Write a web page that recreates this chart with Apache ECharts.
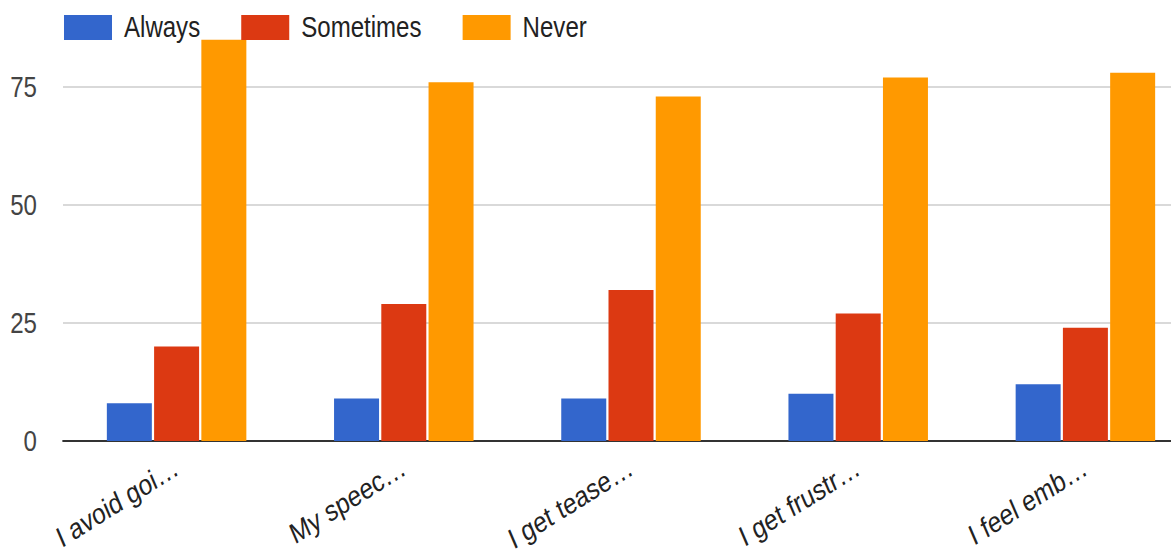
<!DOCTYPE html>
<html>
<head>
<meta charset="utf-8">
<script src="https://cdn.jsdelivr.net/npm/echarts@6/dist/echarts.min.js"></script>
<style>
  html, body { margin: 0; padding: 0; background: #fff; overflow: hidden; }
  #frame { width: 1171px; height: 556px; overflow: hidden; position: relative; }
  #chart { position: absolute; left: 0; top: 0; height: 556px; transform-origin: 0 0; }
</style>
</head>
<body>
<div id="frame"><div id="chart"></div></div>
<script>
// Survey answers per statement
const categories = ['I avoid goi…', 'My speec…', 'I get tease…', 'I get frustr…', 'I feel emb…'];
const always    = [8, 9, 9, 10, 12];
const sometimes = [20, 29, 32, 27, 24];
const never     = [85, 76, 73, 77, 78];
const yTicks = [0, 25, 50, 75, 100];

// The chart is laid out on a wider canvas and condensed horizontally,
// giving tall, narrow lettering; sx converts on-screen px to layout px.
const SQUEEZE = 0.83;
const sx = v => v / SQUEEZE;

const el = document.getElementById('chart');
el.style.width = sx(1171) + 'px';
el.style.transform = 'scaleX(' + SQUEEZE + ')';

const FONT = "'Liberation Sans', Arial, sans-serif";

const chart = echarts.init(el, null, { renderer: 'svg' });

function barSeries(name, data, color) {
  return {
    name: name,
    type: 'bar',
    data: data,
    barWidth: sx(45),
    barGap: '5%',
    itemStyle: { color: color },
    emphasis: { disabled: true }
  };
}

chart.setOption({
  animation: false,
  textStyle: { fontFamily: FONT },
  legend: {
    left: sx(64),
    top: 13,
    padding: 0,
    icon: 'rect',
    itemWidth: sx(48),
    itemHeight: 25,
    itemGap: sx(41),
    textStyle: { fontSize: 29, color: '#222', fontFamily: FONT, padding: [0, 0, 0, sx(12) - 5] },
    data: ['Always', 'Sometimes', 'Never']
  },
  grid: {
    left: sx(63),
    top: -31,
    width: sx(1136),
    height: 472,
    containLabel: false,
    outerBoundsMode: 'none'
  },
  xAxis: {
    type: 'category',
    data: categories,
    axisLine: { show: true, lineStyle: { color: '#333', width: 2 } },
    axisTick: { show: false },
    axisLabel: {
      rotate: 27.5,
      margin: 24,
      fontSize: 29,
      color: '#222',
      fontFamily: FONT,
      interval: 0
    }
  },
  yAxis: {
    type: 'value',
    min: yTicks[0],
    max: yTicks[yTicks.length - 1],
    interval: yTicks[1] - yTicks[0],
    axisLine: { show: false },
    axisTick: { show: false },
    axisLabel: { margin: sx(26), fontSize: 29, color: '#444', fontFamily: FONT, showMaxLabel: false },
    splitLine: { lineStyle: { color: '#ccc', width: 1.5 } }
  },
  series: [
    barSeries('Always', always, '#3366cc'),
    barSeries('Sometimes', sometimes, '#dc3912'),
    barSeries('Never', never, '#ff9900')
  ]
});
</script>
</body>
</html>
